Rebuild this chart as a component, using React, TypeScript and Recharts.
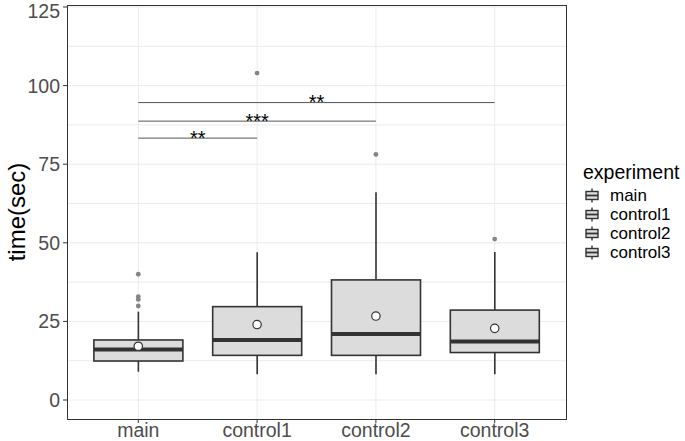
import React from 'react';
import {
  ComposedChart,
  Bar,
  Scatter,
  XAxis,
  YAxis,
  CartesianGrid,
  ReferenceLine,
  Legend,
} from 'recharts';

const categories = ['main', 'control1', 'control2', 'control3'];
const whiskerLow = [9.0, 8.2, 8.2, 8.2];
const q1 = [12.4, 14.2, 14.2, 15.1];
const medians = [16.1, 19.1, 21.0, 18.6];
const q3 = [19.1, 29.7, 38.2, 28.6];
const whiskerHigh = [28.1, 47.0, 66.1, 47.1];
const means = [17.1, 24.0, 26.7, 22.8];
const outliers = [[40.0, 32.9, 32.0, 29.9], [104], [78.1], [51.2]];

const yTicks = [0, 25, 50, 75, 100, 125];
const gridValues = [0, 12.5, 25, 37.5, 50, 62.5, 75, 87.5, 100, 112.5, 125];

// significance brackets: from group, to group, height, label
const sigFrom = [1, 1, 1];
const sigTo = [2, 3, 4];
const sigY = [83.3, 88.7, 94.6];
const sigLabels = ['**', '***', '**'];

const boxData = categories.map((name, i) => ({
  x: i + 1,
  name,
  low: whiskerLow[i],
  q1: q1[i],
  median: medians[i],
  q3: q3[i],
  high: whiskerHigh[i],
}));

const meanData = means.map((m, i) => ({ x: i + 1, y: m }));
const outlierData = outliers.flatMap((vals, i) => vals.map((v) => ({ x: i + 1, y: v })));

const FONT = 'Liberation Sans, Arial, sans-serif';
const DARK = '#333333';

const BoxShape = (props: any) => {
  const { x, y, width, height, payload } = props;
  if (height == null || !payload) return null;
  const ppu = height / (payload.high - payload.low);
  const py = (v: number) => y + (payload.high - v) * ppu;
  const cx = x + width / 2;
  return (
    <g>
      <line x1={cx} x2={cx} y1={py(payload.high)} y2={py(payload.q3)} stroke={DARK} strokeWidth={1.6} />
      <line x1={cx} x2={cx} y1={py(payload.q1)} y2={py(payload.low)} stroke={DARK} strokeWidth={1.6} />
      <rect
        x={x}
        y={py(payload.q3)}
        width={width}
        height={py(payload.q1) - py(payload.q3)}
        fill="#dcdcdc"
        stroke={DARK}
        strokeWidth={1.6}
      />
      <line x1={x} x2={x + width} y1={py(payload.median)} y2={py(payload.median)} stroke={DARK} strokeWidth={4} />
    </g>
  );
};

const OutlierDot = (props: any) => <circle cx={props.cx} cy={props.cy} r={2.4} fill="#858585" />;
const MeanDot = (props: any) => (
  <circle cx={props.cx} cy={props.cy} r={4.2} fill="#ffffff" stroke={DARK} strokeWidth={1.2} />
);

const LegendIcon = () => (
  <svg width={14} height={15} style={{ marginLeft: 2, marginRight: 11, flexShrink: 0 }}>
    <line x1={7} x2={7} y1={0.5} y2={14.5} stroke={DARK} strokeWidth={1.4} />
    <rect x={1} y={3.5} width={12} height={8} fill="#dcdcdc" stroke={DARK} strokeWidth={1.4} />
    <line x1={1} x2={13} y1={7.5} y2={7.5} stroke={DARK} strokeWidth={1.8} />
  </svg>
);

const LegendContent = () => (
  <div style={{ fontFamily: FONT, color: '#000', width: 105, whiteSpace: 'nowrap' }}>
    <div style={{ fontSize: 19.5, lineHeight: '22px', marginBottom: 3 }}>experiment</div>
    {categories.map((c) => (
      <div key={c} style={{ display: 'flex', alignItems: 'center', fontSize: 17, lineHeight: '19px', height: 19 }}>
        <LegendIcon />
        <span>{c}</span>
      </div>
    ))}
  </div>
);

const YLabel = (props: any) => {
  const vb = props.viewBox;
  const cx = vb.x + 16;
  const cy = vb.y + vb.height / 2;
  return (
    <text
      x={cx}
      y={cy}
      transform={`rotate(-90, ${cx}, ${cy})`}
      textAnchor="middle"
      dominantBaseline="central"
      fontFamily={FONT}
      fontSize={24}
      fill="#000"
    >
      time(sec)
    </text>
  );
};

const SigLabel = (text: string) => (props: any) => {
  const vb = props.viewBox;
  if (!vb) return null;
  return (
    <text
      x={vb.x + vb.width / 2}
      y={vb.y + 6.5}
      textAnchor="middle"
      fontFamily={FONT}
      fontSize={20}
      fill="#000"
    >
      {text}
    </text>
  );
};

export default function App() {
  return (
    <div style={{ position: 'absolute', left: 0, top: 0, width: 685, height: 441, background: '#fff' }}>
      <ComposedChart
        width={685}
        height={441}
        data={boxData}
        margin={{ top: 5, right: 119, bottom: 0, left: 0 }}
      >
        <CartesianGrid
          stroke="#ebebeb"
          horizontalValues={gridValues}
          verticalValues={[1, 2, 3, 4]}
        />
        <XAxis
          dataKey="x"
          type="number"
          domain={[0.4, 4.6]}
          ticks={[1, 2, 3, 4]}
          tickFormatter={(v: number) => categories[v - 1]}
          height={22}
          axisLine={false}
          tickSize={4}
          tickMargin={0}
          tickLine={{ stroke: DARK }}
          tick={{ fill: '#4d4d4d', fontSize: 19.5, fontFamily: FONT }}
          allowDataOverflow
        />
        <YAxis
          type="number"
          domain={[-6.04, 125.64]}
          ticks={yTicks}
          width={67}
          axisLine={false}
          tickSize={4}
          tickMargin={3}
          tickLine={{ stroke: DARK }}
          tick={{ fill: '#4d4d4d', fontSize: 19.5, fontFamily: FONT }}
          allowDataOverflow
          label={<YLabel />}
        />
        <Bar
          dataKey={(d: any) => [d.low, d.high]}
          barSize={89}
          shape={<BoxShape />}
          isAnimationActive={false}
          legendType="none"
        />
        <Scatter data={outlierData} dataKey="y" shape={<OutlierDot />} isAnimationActive={false} legendType="none" />
        <Scatter data={meanData} dataKey="y" shape={<MeanDot />} isAnimationActive={false} legendType="none" />
        {sigLabels.map((lab, i) => (
          <ReferenceLine
            key={i}
            segment={[
              { x: sigFrom[i], y: sigY[i] },
              { x: sigTo[i], y: sigY[i] },
            ]}
            stroke="#555555"
            strokeWidth={1}
            label={SigLabel(lab)}
          />
        ))}
        <Legend
          content={<LegendContent />}
          layout="horizontal"
          verticalAlign="middle"
          align="right"
          wrapperStyle={{ position: 'absolute', left: 583, top: 161, width: 0, height: 0, overflow: 'visible' }}
        />
      </ComposedChart>
      <div
        style={{
          position: 'absolute',
          left: 67,
          top: 5,
          width: 498,
          height: 413,
          border: '1px solid #333333',
          pointerEvents: 'none',
        }}
      />
    </div>
  );
}
